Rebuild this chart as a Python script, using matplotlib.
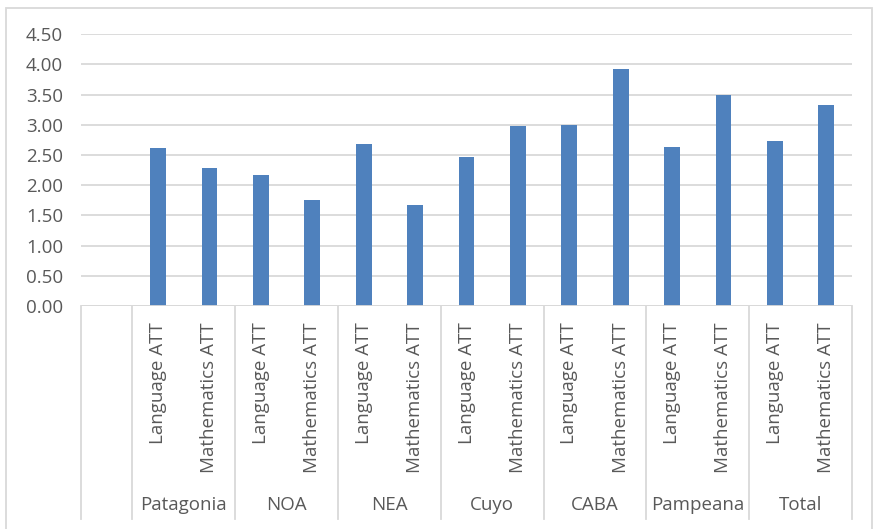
import matplotlib.pyplot as plt
from matplotlib.patches import Rectangle

# attainment means by region
regions = ["Patagonia", "NOA", "NEA", "Cuyo", "CABA", "Pampeana", "Total"]
subjects = ["Language ATT", "Mathematics ATT"]
language_att = [2.62, 2.17, 2.69, 2.47, 3.00, 2.64, 2.73]
math_att = [2.28, 1.75, 1.68, 2.98, 3.92, 3.49, 3.33]
y_ticks = [0.0, 0.5, 1.0, 1.5, 2.0, 2.5, 3.0, 3.5, 4.0, 4.5]

BLUE = "#4F81BD"
GRID = "#D9D9D9"
TEXT = "#595959"
FONT = ["Open Sans", "DejaVu Sans"]

W, H = 873, 529
fig = plt.figure(figsize=(W / 100, H / 100), dpi=100)
ax = fig.add_axes([81 / W, 1 - 306 / H, (852 - 81) / W, (306 - 34.3) / H])

# slot 0 is an empty category, then two bars per region
values = []
for lang, mat in zip(language_att, math_att):
    values += [lang, mat]
xs = list(range(1, len(values) + 1))
ax.bar(xs, values, width=0.31, color=BLUE, zorder=3)

ax.set_xlim(-0.5, len(values) + 0.5)
ax.set_ylim(0, 4.5)
ax.set_yticks(y_ticks)
ax.set_yticklabels([f"{v:.2f}" for v in y_ticks], fontsize=13.5,
                   color=TEXT, family=FONT)
ax.tick_params(axis="y", length=0, pad=13)
ax.set_xticks([])
ax.grid(axis="y", color=GRID, linewidth=1.3, zorder=0)
for s in ax.spines.values():
    s.set_visible(False)
ax.axhline(0, color=GRID, linewidth=1.3, zorder=4)

tr = ax.get_xaxis_transform()
ph = 306 - 34.3
low = -(519 - 306) / ph

# separators between region groups
edges = [-0.5] + [0.5 + 2 * i for i in range(len(regions) + 1)]
for e in edges:
    ax.plot([e, e], [0, low], transform=tr, color=GRID, linewidth=1.3,
            clip_on=False)

for x in xs:
    ax.text(x, -(322 - 306) / ph, subjects[(x - 1) % 2], transform=tr,
            rotation=90, ha="center", va="top", fontsize=13.5,
            color=TEXT, family=FONT)

for i, r in enumerate(regions):
    ax.text(1.5 + 2 * i, -(505 - 306) / ph, r, transform=tr,
            ha="center", va="center", fontsize=13.5, color=TEXT, family=FONT)

# chart area border
fig.patches.append(Rectangle((6 / W, -0.01), (872 - 6) / W, 1 - 8 / H + 0.01,
                             transform=fig.transFigure, fill=False,
                             edgecolor=GRID, linewidth=1.3))

fig.savefig("out.png", dpi=100)
